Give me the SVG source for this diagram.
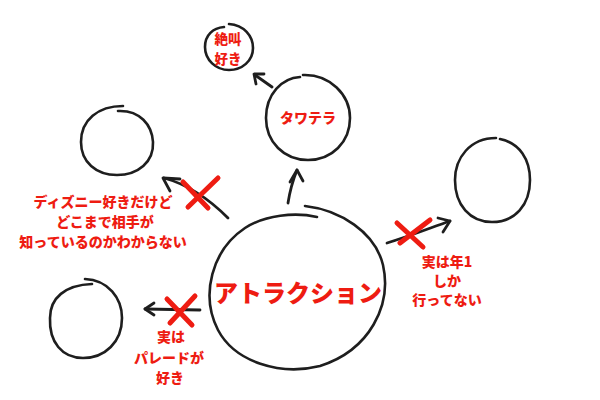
<svg xmlns="http://www.w3.org/2000/svg" width="600" height="400" viewBox="0 0 600 400">
<style>
.c{fill:none;stroke:#1e1e1e;stroke-width:2.6;stroke-linecap:round;stroke-linejoin:round}
.a{fill:none;stroke:#1e1e1e;stroke-width:2.8;stroke-linecap:round;stroke-linejoin:round}
.x{fill:none;stroke:#ee1c12;stroke-width:5;stroke-linecap:round}
.t{fill:#ee1c12;font-family:"Noto Sans CJK JP","Noto Sans",sans-serif;font-weight:900;text-anchor:middle}
</style>
<rect width="600" height="400" fill="#ffffff"/>
<g id="attraction">
<path class="c" d="M305,206 C340,210 375,232 383,265 C392,305 370,350 320,366 C280,376 235,362 218,330 C200,295 212,250 245,228 C265,215 295,212 317,217"/>
<text class="t" x="298" y="302" font-size="24">アトラクション</text>
</g>
<g id="tawatera">
<path class="c" d="M303,75 C330,74 350,95 350,118 C350,142 332,160 308,160 C284,160 266,142 266,118 C266,94 282,78 300,77"/>
<text class="t" x="308" y="123" font-size="14">タワテラ</text>
</g>
<g id="zekkyo">
<path class="c" d="M229,24 C244,25 253,36 253,48 C253,61 242,70 229,70 C216,70 205,60 205,47 C205,35 213,28 224,27"/>
<text class="t" x="228" y="44" font-size="13.5">絶叫</text>
<text class="t" x="228" y="64" font-size="13.5">好き</text>
</g>
<g id="empty-topleft">
<path class="c" d="M118,111 C140,110 152,125 153,142 C154,162 138,175 117,175 C96,175 81,162 81,142 C81,120 98,106 123,106"/>
</g>
<g id="empty-right">
<path class="c" d="M500,139 C520,143 530,160 530,180 C530,205 515,222 492,222 C470,222 455,205 455,180 C455,158 470,138 496,138"/>
</g>
<g id="empty-bottomleft">
<path class="c" d="M85,279 C108,280 122,298 122,318 C122,342 105,358 83,358 C62,358 49,342 50,318 C50,298 65,285 92,284"/>
</g>
<g id="connectors">
<path class="a" d="M288,203 C290,190 293,180 297,170"/>
<path class="a" d="M290,182 L297,170 L303,181"/>
<path class="a" d="M272,87 L255,75"/>
<path class="a" d="M256,84 L254,74 L264,74"/>
<path class="a" d="M228,218 C210,200 190,185 164,178"/>
<path class="a" d="M170,191 L163,178 L180,179"/>
<path class="a" d="M387,243 C410,236 430,228 450,221"/>
<path class="a" d="M438,218 L450,221 L443,232"/>
<path class="a" d="M200,310 L145,309"/>
<path class="a" d="M154,303 L145,309 L154,315"/>
</g>
<g id="crosses">
<path class="x" d="M183,182 L208,208 M218,178 L188,207"/>
<path class="x" d="M397,223 L423,247 M430,220 L400,243"/>
<path class="x" d="M167,299 L192,325 M195,296 L170,323"/>
</g>
<g id="labels">
<text class="t" x="103" y="207" font-size="14">ディズニー好きだけど</text>
<text class="t" x="105" y="227" font-size="14">どこまで相手が</text>
<text class="t" x="103" y="247" font-size="14">知っているのかわからない</text>
<text class="t" x="447" y="267" font-size="14">実は年1</text>
<text class="t" x="447" y="286" font-size="14">しか</text>
<text class="t" x="447" y="305" font-size="14">行ってない</text>
<text class="t" x="171" y="342" font-size="14">実は</text>
<text class="t" x="169" y="363" font-size="14">パレードが</text>
<text class="t" x="170" y="383" font-size="14">好き</text>
</g>
</svg>
